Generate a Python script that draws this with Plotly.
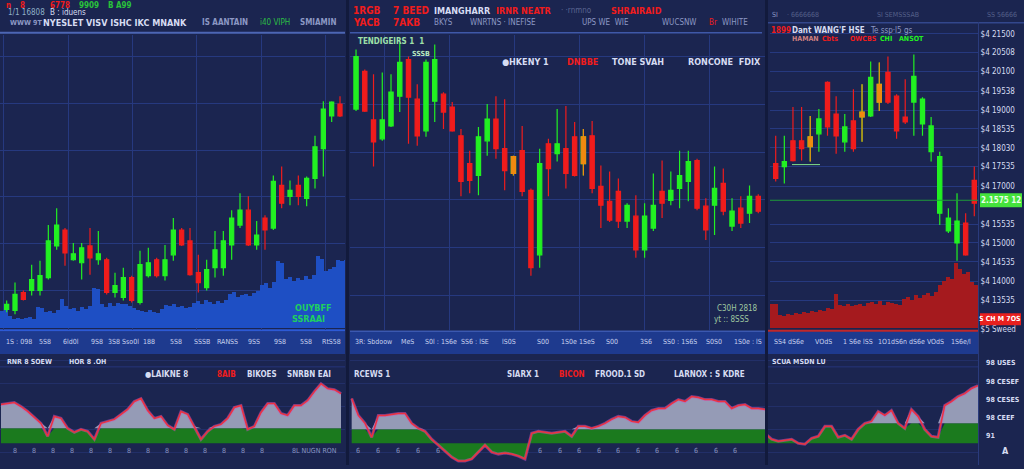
import plotly.graph_objects as go

# ---------------- DATA ----------------
# Left panel candles (index-ordered sessions)
L_open  = [21,20,38,40,40,53,85,101,71,68,85,71,71,38,33,53,28,55,71,55,76,101,90,58,43,63,63,86,106,121,86,113,103,146,135,146,133,153,183,216,228]
L_close = [26,36,31,51,55,90,106,78,77,83,73,77,38,45,53,30,66,68,55,71,101,86,56,48,61,81,90,113,121,86,96,101,150,128,141,135,153,185,223,230,216]
L_high  = [30,48,40,66,70,106,123,103,88,88,103,100,73,58,63,55,80,83,73,86,113,103,103,76,71,100,100,121,138,135,110,116,156,165,151,156,155,196,231,231,236]
L_low   = [18,16,30,35,35,51,81,65,70,51,56,66,36,33,30,28,26,53,53,50,70,85,55,38,40,53,55,71,103,85,81,81,101,123,126,126,125,143,155,210,215]
L_volume = [17,18,12,9,10,9,10,11,9,21,20,16,17,15,18,29,22,19,20,17,
            21,19,22,41,40,24,21,25,22,25,24,24,22,20,18,17,16,18,16,15,
            19,23,22,24,21,22,20,21,25,27,24,28,26,24,27,25,28,34,36,31,
            33,34,32,35,37,44,46,41,47,68,66,50,52,48,51,49,53,50,54,73,
            70,58,60,62,69,68,69]

# Middle panel candles
M_open  = [223,261,212,193,206,236,273,233,201,231,238,225,196,168,156,191,213,183,158,181,141,76,188,178,183,195,168,196,145,130,140,110,115,81,103,140,131,143,150,171,125,126,148,105,123,118,135]
M_close = [276,221,190,212,240,270,235,196,270,273,220,201,150,151,195,213,183,161,175,140,63,168,163,188,158,156,195,143,126,111,110,126,81,115,126,128,141,156,170,123,101,143,120,120,108,135,120]
M_high  = [283,263,258,260,258,290,276,248,273,288,240,230,203,181,205,228,236,233,176,206,143,183,193,223,226,210,203,211,166,160,153,128,136,128,158,171,160,181,181,173,133,165,163,133,135,146,137]
M_low   = [221,220,165,191,205,220,188,186,195,210,203,200,135,138,136,176,173,141,156,135,55,63,135,170,143,155,156,138,103,109,103,103,73,73,100,113,126,123,130,121,91,96,116,100,103,108,118]
M_orange = [18, 26]   # sessions drawn in amber

# Right panel candles
R_open  = [168,165,191,191,185,198,250,218,190,211,215,216,230,260,236,215,230,208,180,118,100,88,108,151]
R_close = [153,170,171,183,195,213,205,196,205,183,220,255,248,230,201,210,256,233,206,175,113,110,76,128]
R_high  = [196,196,225,225,216,223,251,236,218,243,248,271,270,276,238,253,278,235,215,180,123,138,118,165]
R_low   = [150,148,170,171,170,180,196,178,180,180,190,215,221,228,193,208,196,196,170,106,98,70,75,115]
R_orange = [4, 10, 12]
R_volume = [24,24,13,12,14,13,15,14,16,15,17,16,18,17,20,19,34,23,22,24,
            22,23,24,22,25,26,24,27,23,26,25,24,23,29,31,28,33,30,33,35,
            32,36,44,48,52,50,66,60,55,57,47,44]
R_last_price = 131
R_low_tag_price = 11
R_tick_prices = [299,280,261,241,222,203,184,165,145,107,88,69,49,30,1]
R_tick_labels = ["$4 21500","$4 20508","$4 20100","$4 19538","$4 19000","$4 18535",
                 "$4 18030","$4 17535","$4 17000","$4 15535","$4 15000","$4 14535",
                 "$4 14000","$4 13535","$5 Sweed"]
R_last_label = "2.1575 12"
R_low_label = "S CH M 7OS"

# Oscillators
L_osc = [39,40,41,37,32,26,20,7,27,25,15,11,14,12,4,20,22,24,29,34,42,45,33,25,27,18,14,32,29,17,
         4,12,17,19,25,36,38,14,17,31,40,40,30,28,38,38,43,52,60,55,54,50]
M_osc = [45,28,20,6,28,28,29,30,30,20,15,12,4,-2,-8,-14,-18,-18,-16,-9,-2,-9,-11,-10,-11,-13,-16,10,12,11,
         10,11,12,7,17,17,15,17,20,24,27,26,22,21,28,33,35,35,40,44,42,47,46,44,44,42,42,35,38,39,35,35,34]
R_osc = [10,4,2,3,4,0,-1,5,7,17,17,6,8,4,14,20,22,32,28,33,20,15,34,27,14,7,6,38,42,47,50,55,58]
L_level, M_level, R_level = 15, 14, 20

# Axis strip labels
L_strip = ["1S : 098", "5S8", "6ld0l", "9S8", "3S8 Sso0l", "188", "5S8", "SSSB",
           "RANSS", "9SS", "9S8", "5S8", "RtS58"]
M_strip = ["3R: Sbdoow", "MeS", "S0l : 1S6e", "SS6 : lSE", "lS0S", "S00", "1S0e 1SeS",
           "S00", "3S6", "SS0 : 1S6S", "S0S0", "1S0e : lS"]
R_strip = ["SS4 dS6e", "VOdS", "1 S6e lSS", "1O1dS6n", "dS6e VOdS", "1S6e/l"]
R_osc_labels = ["58 SKRET", "98 USES", "98 CESEF", "98 CESES", "98 CEEF", "91"]
R_osc_label_vals = [97, 81, 62, 44, 25, 7]

# ---------------- STYLE ----------------
W, H = 1024, 469
BG = "#1b2550"
GRID = "#26397f"
GREEN = "#22f022"
RED = "#f01c1c"
AMBER = "#f08a10"
BLUE_VOL = "#1e4fc4"
RED_VOL = "#a51a1e"
BAND = "#1e3a8e"
OSC_GREY = "#959bb6"
OSC_GREEN = "#1b7a1e"
OSC_LINE = "#ec3340"
TXT = "#d6dcf2"
TXT_DIM = "#8c98c4"
FONT = "DejaVu Sans Condensed, Liberation Sans, sans-serif"

def fx(x): return x / W
def fy(y): return 1 - y / H

fig = go.Figure()

def candles(o, h, l, c, xa, ya, amber=()):
    xs = list(range(len(o)))
    fig.add_trace(go.Candlestick(
        x=xs, open=o, high=h, low=l, close=c, xaxis=xa, yaxis=ya,
        increasing=dict(line=dict(color=GREEN, width=1.2), fillcolor=GREEN),
        decreasing=dict(line=dict(color=RED, width=1.2), fillcolor=RED),
        whiskerwidth=0, showlegend=False, hoverinfo="skip"))
    if amber:
        keep = set(amber)
        nanify = lambda arr: [v if i in keep else None for i, v in enumerate(arr)]
        fig.add_trace(go.Candlestick(
            x=xs, open=nanify(o), high=nanify(h), low=nanify(l), close=nanify(c), xaxis=xa, yaxis=ya,
            increasing=dict(line=dict(color=AMBER, width=1.2), fillcolor=AMBER),
            decreasing=dict(line=dict(color=AMBER, width=1.2), fillcolor=AMBER),
            whiskerwidth=0, showlegend=False, hoverinfo="skip"))

def volume(v, color, xa, ya):
    fig.add_trace(go.Bar(x=list(range(len(v))), y=v, width=1.0, marker=dict(color=color, line=dict(width=0)),
                         xaxis=xa, yaxis=ya, showlegend=False, hoverinfo="skip"))

def osc(vals, level, xa, ya):
    xs = list(range(len(vals)))
    fig.add_trace(go.Scatter(x=xs, y=[min(v, level) for v in vals], mode="lines", line=dict(width=0),
                             fill="tozeroy", fillcolor=OSC_GREEN, xaxis=xa, yaxis=ya, showlegend=False, hoverinfo="skip"))
    fig.add_trace(go.Scatter(x=xs, y=[level] * len(vals), mode="lines", line=dict(width=0),
                             xaxis=xa, yaxis=ya, showlegend=False, hoverinfo="skip"))
    fig.add_trace(go.Scatter(x=xs, y=[max(v, level) for v in vals], mode="lines", line=dict(width=0),
                             fill="tonexty", fillcolor=OSC_GREY, xaxis=xa, yaxis=ya, showlegend=False, hoverinfo="skip"))
    fig.add_trace(go.Scatter(x=xs, y=vals, mode="lines", line=dict(color="#c455c8", width=3.0),
                             opacity=0.5, xaxis=xa, yaxis=ya, showlegend=False, hoverinfo="skip"))
    fig.add_trace(go.Scatter(x=xs, y=vals, mode="lines", line=dict(color=OSC_LINE, width=1.5),
                             xaxis=xa, yaxis=ya, showlegend=False, hoverinfo="skip"))

# left: volume base + candles overlay
volume(L_volume, BLUE_VOL, "x", "y")
candles(L_open, L_high, L_low, L_close, "x7", "y2")
# middle
candles(M_open, M_high, M_low, M_close, "x2", "y3", M_orange)
# right: volume base + candles overlay
volume(R_volume, RED_VOL, "x3", "y4")
candles(R_open, R_high, R_low, R_close, "x8", "y5", R_orange)
# oscillators
osc(L_osc, L_level, "x4", "y6")
osc(M_osc, M_level, "x5", "y7")
osc(R_osc, R_level, "x6", "y8")

hid = dict(showticklabels=False, zeroline=False, showline=False, ticks="", fixedrange=True)
grid = dict(showgrid=True, gridcolor=GRID, gridwidth=1)
nogrid = dict(showgrid=False)

osc_dom = [0, fy(358)]
top_dom = [fy(333), fy(35)]

fig.update_layout(
    width=W, height=H, margin=dict(l=0, r=0, t=0, b=0), autosize=False,
    paper_bgcolor=BG, plot_bgcolor=BG, bargap=0, font=dict(family=FONT, color=TXT),
    xaxis=dict(domain=[0, fx(345)], anchor="y", range=[-0.5, 85.75], tick0=16.5, dtick=16.1,
               rangeslider=dict(visible=False), **hid, **grid),
    yaxis=dict(domain=top_dom, anchor="x", range=[-2, 296], tick0=38, dtick=47.2, **hid, **grid),
    xaxis7=dict(overlaying="x", anchor="y2", range=[-0.8, 40.6], rangeslider=dict(visible=False), visible=False),
    yaxis2=dict(overlaying="y", anchor="x7", range=[0, 298], visible=False),
    xaxis2=dict(domain=[fx(350), fx(765)], anchor="y3", range=[-0.69, 46.77], tick0=3.31, dtick=7.43,
                rangeslider=dict(visible=False), **hid, **grid),
    yaxis3=dict(domain=top_dom, anchor="x2", range=[0, 298], tick0=35, dtick=48.2, **hid, **grid),
    xaxis3=dict(domain=[fx(770), fx(978)], anchor="y4", range=[-0.5, 51.5], rangeslider=dict(visible=False), **hid, **nogrid),
    yaxis4=dict(domain=[fy(333), fy(22)], anchor="x3", range=[-2, 309], **hid, **nogrid),
    xaxis8=dict(overlaying="x3", anchor="y5", range=[-0.66, 23.43], rangeslider=dict(visible=False), visible=False),
    yaxis5=dict(overlaying="y4", anchor="x8", side="right", range=[0, 311], tickvals=R_tick_prices,
                ticktext=R_tick_labels, tickfont=dict(size=8, color=TXT, family=FONT), ticks="",
                showline=True, linecolor="#2a3b7c", zeroline=False, fixedrange=True, **grid),
    xaxis4=dict(domain=[0, fx(345)], anchor="y6", range=[-0.15, 51.6], **hid, **nogrid),
    yaxis6=dict(domain=osc_dom, anchor="x4", range=[-22, 89], tick0=-9, dtick=23, gridcolor="#222f68", showgrid=True, **hid),
    xaxis5=dict(domain=[fx(350), fx(765)], anchor="y7", range=[-0.25, 62], **hid, **nogrid),
    yaxis7=dict(domain=osc_dom, anchor="x5", range=[-22, 89], tick0=-9, dtick=23, gridcolor="#222f68", showgrid=True, **hid),
    xaxis6=dict(domain=[fx(768), fx(978)], anchor="y8", range=[0.45, 32], **hid, **nogrid),
    yaxis8=dict(domain=osc_dom, anchor="x6", range=[-22, 89], tick0=-9, dtick=23, gridcolor="#222f68", showgrid=True, **hid),
)

shapes = []
def rect(x0, y0, x1, y1, color, layer="below"):
    shapes.append(dict(type="rect", xref="paper", yref="paper", x0=fx(x0), x1=fx(x1), y0=fy(y1), y1=fy(y0),
                       fillcolor=color, line=dict(width=0), layer=layer))
def hline(x0, x1, y, color, width=1, layer="below"):
    shapes.append(dict(type="line", xref="paper", yref="paper", x0=fx(x0), x1=fx(x1), y0=fy(y), y1=fy(y),
                       line=dict(color=color, width=width), layer=layer))
def vline(x, y0, y1, color, width=1, layer="below"):
    shapes.append(dict(type="line", xref="paper", yref="paper", x0=fx(x), x1=fx(x), y0=fy(y1), y1=fy(y0),
                       line=dict(color=color, width=width), layer=layer))

# axis strips
for (a, b) in [(0, 345), (350, 765), (768, 978)]:
    rect(a, 334, b, 357, BAND)
hline(0, 345, 333, "#2d5ad6", 2)
hline(350, 765, 334, "#3b58b0", 1.5)
hline(768, 978, 333.5, "#c0282c", 2)
# header separators
hline(0, 345, 33, "#4d66b4", 2)
hline(350, 762, 33, "#3f58a8", 1.5)
hline(768, 1024, 23, "#33478c", 1.5)
# panel dividers
vline(347.5, 0, 469, "#121a3c", 3)
vline(766.5, 0, 469, "#121a3c", 3)
vline(978.5, 23, 469, "#2a3b7c", 1)
# osc header faint line
hline(0, 345, 370, "#26357a", 1)
hline(768, 978, 370, "#26357a", 1)
# right panel last price line
shapes.append(dict(type="line", xref="x3", yref="y5", x0=-0.5, x1=51.5, y0=R_last_price, y1=R_last_price,
                   line=dict(color="#1f9a3a", width=1), layer="above"))
hline(792, 820, 166, "#7fdc8a", 1, layer="above")
# price tags
shapes.append(dict(type="rect", xref="paper", yref="y5", x0=fx(980), x1=fx(1022), y0=R_last_price - 7, y1=R_last_price + 7,
                   fillcolor="#44e33c", line=dict(width=0), layer="above"))
shapes.append(dict(type="rect", xref="paper", yref="y5", x0=fx(980), x1=fx(1021), y0=R_low_tag_price - 6, y1=R_low_tag_price + 6,
                   fillcolor="#e8201e", line=dict(width=0), layer="above"))
fig.update_layout(shapes=shapes)

anns = []
def t(x, y, text, color=TXT, size=9, anchor="left", bold=False):
    anns.append(dict(x=fx(x), y=fy(y), xref="paper", yref="paper", text=("<b>%s</b>" % text) if bold else text,
                     showarrow=False, xanchor=anchor, yanchor="middle",
                     font=dict(size=size, color=color, family=FONT)))

# left header
t(4, 6, "n", RED, 8, bold=True); t(18, 6, "8", RED, 8, bold=True); t(48, 6, "6778", RED, 8, bold=True)
t(77, 6, "9909", "#29c23a", 8, bold=True); t(106, 6, "B A99", "#29c23a", 8, bold=True)
t(6, 13, "1/1 16808", "#8fb0c8", 8); t(48, 13, "B : iduens", TXT, 8)
t(8, 23, "WWW 9T", TXT_DIM, 7, bold=True)
t(41, 23, "NYESLET VISV ISHC IKC MNANK", TXT, 9, bold=True)
t(200, 23, "IS AANTAIN", TXT_DIM, 8, bold=True)
t(258, 23, "i40 VIPH", "#2bbf45", 8)
t(298, 23, "SMIAMIN", TXT_DIM, 8, bold=True)
# left plot text
t(293, 311, "OUYBFF", "#1fd060", 9, bold=True)
t(290, 322, "SSRAAI", "#1fd060", 9, bold=True)
# middle header
t(351, 11, "1RGB", RED, 10, bold=True); t(391, 11, "7 BEED", RED, 10, bold=True)
t(432, 11, "IMANGHARR", TXT, 9, bold=True); t(494, 11, "IRNR NEATR", RED, 9, bold=True)
t(559, 11, "· ·rnmno", "#5a6490", 8); t(609, 11, "SHRAIRAID", RED, 9, bold=True)
t(351, 23, "YACB", RED, 10, bold=True); t(391, 23, "7AKB", RED, 10, bold=True)
t(432, 23, "BKYS", TXT_DIM, 8); t(468, 23, "WNRTNS · INEFISE", TXT_DIM, 8)
t(580, 23, "UPS WE  WIE", TXT_DIM, 8); t(660, 23, "WUCSNW", TXT_DIM, 8)
t(707, 23, "Br", RED, 8); t(720, 23, "WIHITE", TXT_DIM, 8)
# middle plot text
t(356, 42, "TENDIGEIRS 1  1", "#9ee0a8", 8, bold=True)
t(410, 54, "SSSB", "#b8e8c0", 7, bold=True)
t(500, 63, "●HKENY 1", TXT, 9, bold=True)
t(565, 63, "DNBBE", RED, 9, bold=True)
t(610, 63, "TONE SVAH", TXT, 9, bold=True)
t(686, 63, "RONCONE  FDIX", TXT, 9, bold=True)
t(715, 311, "C30H 2818", "#9fc8a0", 8)
t(712, 322, "yt :: 8SSS", "#9fc8a0", 8)
# right header
t(770, 15, "SI", TXT_DIM, 7); t(785, 15, "· 6666668", "#55608a", 7); t(875, 15, "SI SEMSSSAB", "#55608a", 7)
t(985, 15, "SS 56666", "#55608a", 7)
t(769, 31, "1899", RED, 8, bold=True); t(790, 31, "Dant WANG'F HSE", TXT, 8, bold=True)
t(868, 31, "Te ssp·l5 gs", TXT_DIM, 8)
t(790, 39, "HAMAN", "#d08080", 7, bold=True); t(820, 39, "Cbts", RED, 7, bold=True)
t(848, 39, "OWCBS", RED, 7, bold=True); t(878, 39, "CHI", GREEN, 7, bold=True); t(897, 39, "ANSOT", GREEN, 7, bold=True)
# tags text
t(1001, 202, R_last_label, "#eaffea", 8, anchor="center", bold=True)
t(1000, 322, R_low_label, "#ffffff", 7, anchor="center", bold=True)
# strips
for labels, a, b in [(L_strip, 6, 345), (M_strip, 356, 765), (R_strip, 772, 978)]:
    n = len(labels)
    for k, s in enumerate(labels):
        t(a + (k + 0.5) * (b - a) / n, 345, s, "#c8d2ee", 7, anchor="center")
# osc headers
t(5, 365, "RNR 8 SOEW", TXT, 7, bold=True); t(67, 365, "HOR 8 .OH", TXT, 7, bold=True)
t(143, 378, "●LAIKNE 8", TXT, 8, bold=True); t(215, 378, "8AIB", RED, 8, bold=True)
t(245, 378, "BIKOES", TXT, 8, bold=True); t(285, 378, "SNRBN EAI", TXT, 8, bold=True)
t(352, 378, "RCEWS 1", TXT, 8, bold=True)
t(505, 378, "SIARX 1", TXT, 8, bold=True); t(557, 378, "BICON", RED, 8, bold=True)
t(593, 378, "FROOD.1 SD", TXT, 8, bold=True); t(672, 378, "LARNOX : S KDRE", TXT, 8, bold=True)
t(770, 365, "SCUA MSDN LU", TXT, 7, bold=True)
# osc bottom labels
for k in range(14):
    t(15 + k * 19, 455, "8", "#8a96c0", 7, anchor="center")
t(290, 455, "8L NUGN RON", "#8a96c0", 7)
for k in range(5):
    t(358 + k * 20, 455, "6", "#8a96c0", 7, anchor="center")
for k in range(11):
    t(540 + k * 19.5, 455, "6", "#8a96c0", 7, anchor="center")
for s, v in zip(R_osc_labels, R_osc_label_vals):
    anns.append(dict(x=fx(984), y=v, xref="paper", yref="y8", text="<b>%s</b>" % s, showarrow=False,
                     xanchor="left", yanchor="middle", font=dict(size=7, color=TXT, family=FONT)))
t(1000, 455, "A", TXT, 9, bold=True)

fig.update_layout(annotations=anns)
fig.write_html("out.html", config={"displayModeBar": False, "staticPlot": True},
               post_script="document.body.style.margin='0';document.body.style.overflow='hidden';document.body.style.background='%s';" % BG)
